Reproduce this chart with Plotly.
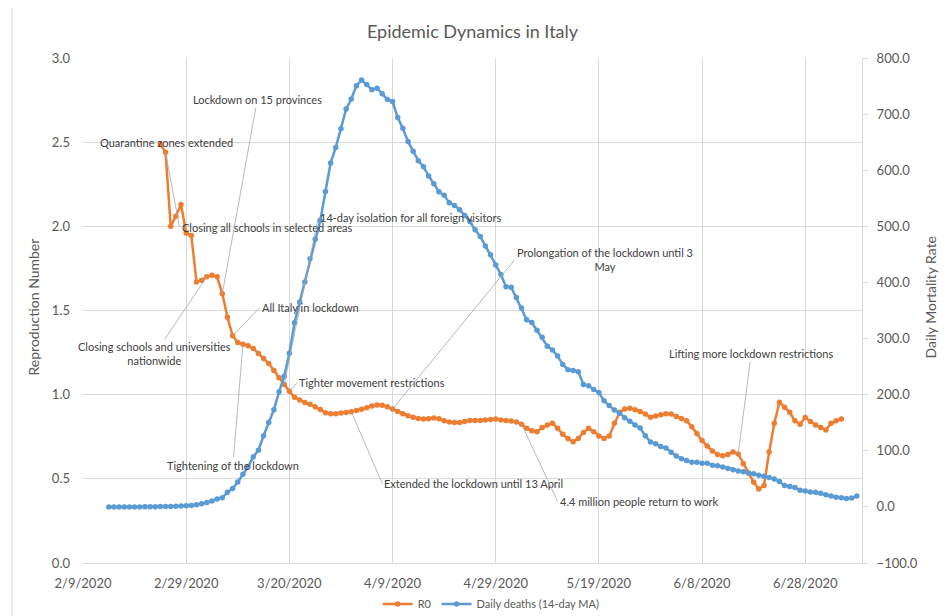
import pandas as pd
import plotly.graph_objects as go

# R0 estimate, daily from 2020-02-24
r0_start = "2020-02-24"
r0 = [
    2.49, 2.44, 2.00, 2.06, 2.13, 1.96, 1.945, 1.67, 1.68, 1.70,
    1.71, 1.70, 1.60, 1.46, 1.35, 1.31, 1.30, 1.29, 1.275, 1.245,
    1.215, 1.185, 1.143, 1.10, 1.06, 1.02, 0.985, 0.968, 0.953, 0.943,
    0.928, 0.912, 0.893, 0.886, 0.887, 0.891, 0.894, 0.899, 0.906, 0.913,
    0.923, 0.933, 0.938, 0.937, 0.928, 0.915, 0.90, 0.886, 0.875, 0.866,
    0.858, 0.855, 0.857, 0.862, 0.857, 0.845, 0.838, 0.834, 0.834, 0.84,
    0.846, 0.846, 0.846, 0.85, 0.853, 0.855, 0.85, 0.846, 0.843, 0.838,
    0.825, 0.80, 0.786, 0.78, 0.805, 0.82, 0.83, 0.80, 0.765, 0.74,
    0.72, 0.74, 0.775, 0.80, 0.78, 0.755, 0.74, 0.755, 0.83, 0.895,
    0.915, 0.92, 0.91, 0.90, 0.885, 0.866, 0.873, 0.88, 0.887, 0.885,
    0.87, 0.858, 0.845, 0.81, 0.77, 0.727, 0.695, 0.665, 0.645, 0.637,
    0.645, 0.66, 0.648, 0.59, 0.535, 0.48, 0.44, 0.46, 0.66, 0.83,
    0.955, 0.925, 0.895, 0.845, 0.825, 0.865, 0.84, 0.82, 0.805, 0.79,
    0.83, 0.845, 0.855,
]

# Daily deaths, 14-day moving average, daily from 2020-02-14
deaths_start = "2020-02-14"
deaths_ma = [
    0, 0, 0, 0, 0, 0, 0, 0.1, 0.1, 0.2,
    0.5, 0.7, 0.9, 1.2, 1.5, 2.1, 2.4, 3.7, 5.6, 7.6,
    10.6, 14.0, 16.5, 25.9, 32.6, 44.4, 58.2, 71.4, 88.9, 100.9,
    126.8, 150.4, 173.1, 205.1, 232.6, 273.9, 328.0, 365.0, 401.0, 442.1,
    476.9, 510.6, 562.0, 613.0, 640.7, 673.8, 708.9, 726.9, 750.7, 760.6,
    752.6, 743.6, 746.1, 736.2, 726.1, 722.4, 693.9, 674.6, 651.4, 633.9,
    617.1, 606.4, 589.6, 576.0, 561.8, 555.2, 542.2, 537.2, 529.7, 519.3,
    508.6, 494.0, 481.8, 465.1, 449.4, 431.2, 414.1, 392.2, 391.6, 373.1,
    354.6, 333.4, 328.5, 314.9, 302.3, 286.5, 279.7, 268.7, 253.7, 244.6,
    242.9, 241.0, 218.1, 216.0, 209.1, 203.9, 189.0, 180.6, 172.5, 167.1,
    158.9, 152.7, 146.0, 140.4, 126.7, 115.6, 112.6, 107.6, 104.9, 97.2,
    90.8, 85.9, 82.7, 79.4, 79.6, 77.6, 77.7, 74.4, 73.2, 71.0,
    68.6, 66.4, 64.0, 62.5, 60.5, 58.9, 56.2, 54.6, 52.5, 49.5,
    45.1, 37.9, 36.5, 34.6, 29.6, 28.1, 26.6, 25.9, 24.3, 21.7,
    19.4, 17.4, 16.2, 15.1, 16.0, 19.3,
]

# events labelled on the R0 line: (text, index into r0)
events = [
    ("Quarantine zones extended", 0),
    ("Closing all schools in selected areas", 1),
    ("Closing schools and universities<br>nationwide", 9),
    ("Lockdown on 15 provinces", 12),
    ("All Italy in lockdown", 14),
    ("Tightening of the lockdown", 16),
    ("14-day isolation for all foreign visitors", 24),
    ("Tighter movement restrictions", 25),
    ("Extended the lockdown until 13 April", 37),
    ("Prolongation of the lockdown until 3<br>May", 45),
    ("4.4 million people return to work", 70),
    ("Lifting more lockdown restrictions", 112),
]

r0_dates = pd.date_range(r0_start, periods=len(r0), freq="D")
deaths_dates = pd.date_range(deaths_start, periods=len(deaths_ma), freq="D")

ORANGE = "#ED7D31"
BLUE = "#5B9BD5"
GRID = "#d9d9d9"
TEXT = "#595959"
FONT = "Lato, Open Sans, sans-serif"

fig = go.Figure()

fig.add_trace(go.Scatter(
    x=r0_dates, y=r0, name="R0",
    mode="lines+markers",
    line=dict(color=ORANGE, width=2.5),
    marker=dict(color=ORANGE, size=5.5),
))

fig.add_trace(go.Scatter(
    x=deaths_dates, y=deaths_ma, name="Daily deaths (14-day MA)",
    mode="lines+markers", yaxis="y2",
    line=dict(color=BLUE, width=2.5),
    marker=dict(color=BLUE, size=5.5),
))

# label placement: pixel offset of the text anchor from the point
label_style = {
    "Quarantine zones extended": dict(showarrow=False, xshift=6, yshift=1),
    "Closing all schools in selected areas": dict(ax=14, ay=75, xanchor="left"),
    "Closing schools and universities<br>nationwide": dict(ax=-52, ay=77),
    "Lockdown on 15 provinces": dict(ax=35, ay=-194),
    "All Italy in lockdown": dict(ax=27, ay=-28, xanchor="left"),
    "Tightening of the lockdown": dict(ax=-10, ay=121),
    "14-day isolation for all foreign visitors": dict(ax=34, ay=-167, xanchor="left"),
    "Tighter movement restrictions": dict(ax=8, ay=-9, xanchor="left"),
    "Extended the lockdown until 13 April": dict(ax=31, ay=72, xanchor="left"),
    "Prolongation of the lockdown until 3<br>May": dict(ax=122, ay=-149, xanchor="left"),
    "4.4 million people return to work": dict(ax=36, ay=77, xanchor="left"),
    "Lifting more lockdown restrictions": dict(ax=13, ay=-100),
}

for text, idx in events:
    style = dict(showarrow=True, arrowhead=0, arrowwidth=0.8,
                 arrowcolor="#a6a6a6", standoff=0, startstandoff=0)
    style.update(label_style[text])
    fig.add_annotation(
        x=r0_dates[idx], y=r0[idx], xref="x", yref="y",
        text=text, align="center",
        font=dict(family=FONT, size=11, color="#404040"),
        **style,
    )

# axis titles
fig.add_annotation(text="Reproduction Number", xref="paper", yref="paper",
                   x=-0.0642, y=0.508, textangle=-90, showarrow=False,
                   xanchor="center", yanchor="middle",
                   font=dict(size=14, color=TEXT))
fig.add_annotation(text="Daily Mortality Rate", xref="paper", yref="paper",
                   x=1.0873, y=0.526, textangle=-90, showarrow=False,
                   xanchor="center", yanchor="middle",
                   font=dict(size=14, color=TEXT))

# the page adds an 8px body margin, so the figure is 8px smaller
fig.update_layout(
    width=940, height=608,
    margin=dict(l=75, r=86, t=50, b=53, autoexpand=False),
    paper_bgcolor="white", plot_bgcolor="white",
    font=dict(family=FONT, color=TEXT),
    title=dict(text="Epidemic Dynamics in Italy", x=0.5, xref="paper",
               y=1 - 24 / 608, yanchor="middle",
               font=dict(size=18, color=TEXT)),
    xaxis=dict(
        type="date",
        range=["2020-02-09", "2020-07-09"],
        tick0="2020-02-09", dtick=20 * 86400000,
        tickformat="%-m/%-d/%Y",
        showgrid=True, gridcolor=GRID,
        showline=True, linecolor=GRID,
        ticks="", tickfont=dict(size=13, color=TEXT),
        ticklabelstandoff=8, automargin=False,
    ),
    yaxis=dict(
        range=[0, 3.0], dtick=0.5, tickformat=".1f",
        showgrid=True, gridcolor=GRID, zeroline=False,
        tickfont=dict(size=13, color=TEXT),
        ticklabelstandoff=12, automargin=False,
    ),
    yaxis2=dict(
        overlaying="y", side="right",
        range=[-100, 800], dtick=100, tickformat=".1f",
        showgrid=False, zeroline=False,
        showline=True, linecolor=GRID,
        ticks="outside", ticklen=5, tickcolor=GRID,
        tickfont=dict(size=13, color=TEXT),
        ticklabelstandoff=6, automargin=False,
    ),
    legend=dict(
        orientation="h", x=0.524, xanchor="center", y=-0.081, yanchor="middle",
        font=dict(size=11, color=TEXT), bgcolor="rgba(0,0,0,0)",
        itemwidth=30, tracegroupgap=0,
    ),
    shapes=[dict(type="line", xref="paper", yref="paper",
                 x0=-0.0911, x1=-0.0911, y0=-0.11, y1=1.12,
                 line=dict(color=GRID, width=1))],
)

fig.write_html("out.html")
